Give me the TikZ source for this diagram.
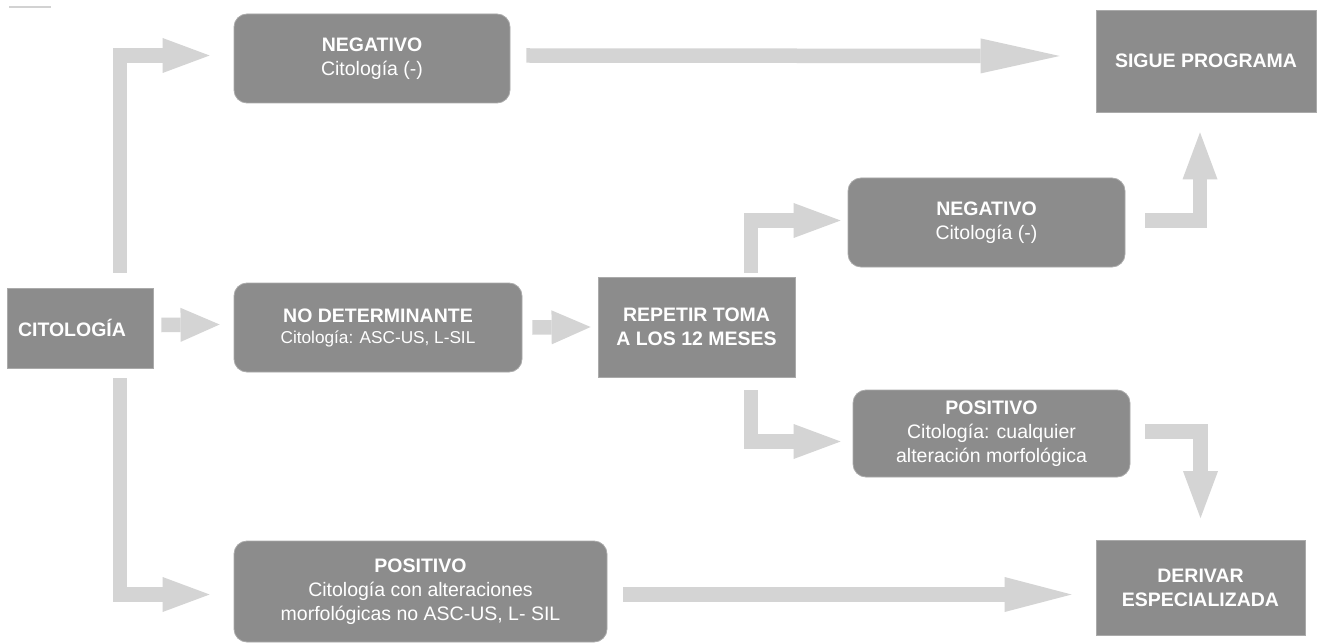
\documentclass[tikz,border=0pt]{standalone}
\usepackage{fontspec}
\setmainfont{Liberation Sans}
\usetikzlibrary{arrows.meta}
\definecolor{boxgray}{RGB}{140,140,140}
\definecolor{boxedge}{RGB}{170,170,170}
\definecolor{arrowgray}{RGB}{212,212,212}
\begin{document}
\begin{tikzpicture}[x=1pt,y=-1pt,
  txt/.style={text=white, align=center, font={\fontsize{19.5}{24}\selectfont}},
  sqbox/.style={txt, draw=boxedge, line width=0.8pt, fill=boxgray, inner sep=0pt},
  rbox/.style={sqbox, rounded corners=13pt},
  barrow/.style={draw=arrowgray, line width=14.5pt, line join=miter,
    -{Triangle[length=47pt, width=35pt, line width=0pt]}},
  shorthead/.style={-{Triangle[length=39pt, width=34pt, line width=0pt]}},
  longhead/.style={-{Triangle[length=79pt, width=35pt, line width=0pt]}},
  midhead/.style={-{Triangle[length=67pt, width=35pt, line width=0pt]}}]
\useasboundingbox (0,0) rectangle (1324,644);
\fill[white] (0,0) rectangle (1324,644);
% faint mark in the corner
\draw[gray!35, line width=1.5pt] (9,7) -- (51,7);

% boxes
\node[sqbox, minimum width=146pt, minimum height=80pt, text width=124pt, align=left]
  (cit) at (80,328) {\textbf{CITOLOGÍA}};
\node[rbox, minimum width=276pt, minimum height=89pt] (neg1) at (372,58.5)
  {\textbf{NEGATIVO}\\Citología (-)};
\node[sqbox, minimum width=220pt, minimum height=102pt] (sigue) at (1206,61)
  {\textbf{SIGUE PROGRAMA}};
\node[rbox, minimum width=288pt, minimum height=89pt] (nodet) at (378,327.5)
  {\textbf{NO DETERMINANTE}\\[-3pt]{\fontsize{17.2}{20}\selectfont Citología: ASC-US, L-SIL}};
\node[sqbox, minimum width=197pt, minimum height=100pt] (rep) at (696.5,327)
  {\textbf{REPETIR TOMA}\\\textbf{A LOS 12 MESES}};
\node[rbox, minimum width=277pt, minimum height=89pt] (neg2) at (986.5,222.5)
  {\textbf{NEGATIVO}\\Citología (-)};
\node[rbox, minimum width=277pt, minimum height=87pt] (pos2) at (991.5,433.5)
  {\textbf{POSITIVO}\\Citología: cualquier\\alteración morfológica};
\node[sqbox, minimum width=209pt, minimum height=95pt] (deriv) at (1200.5,588)
  {\textbf{DERIVAR}\\\textbf{ESPECIALIZADA}};
\node[rbox, minimum width=373pt, minimum height=101pt] (pos1) at (420.5,591.5)
  {\textbf{POSITIVO}\\Citología con alteraciones\\morfológicas no ASC-US, L- SIL};

% block arrows
\draw[barrow] ([xshift=40pt,yshift=15pt]cit.north) |- ([xshift=-24pt,yshift=3pt]neg1.west);
\draw[barrow] ([xshift=40pt,yshift=-10pt]cit.south) |- ([xshift=-24pt,yshift=-3pt]pos1.west);
\draw[barrow, shorthead] ([xshift=8pt,yshift=3pt]cit.east) -- ([xshift=-14pt,yshift=3pt]nodet.west);
\draw[barrow, shorthead] ([xshift=10pt]nodet.east) -- ([xshift=-7pt]rep.west);
\draw[barrow, longhead] ([xshift=16pt,yshift=3pt]neg1.east) -- ([xshift=-36pt,yshift=5pt]sigue.west);
\draw[barrow] ([xshift=54.5pt,yshift=4pt]rep.north) |- ([xshift=-7pt,yshift=2pt]neg2.west);
\draw[barrow] ([xshift=54.5pt,yshift=-13pt]rep.south) |- ([xshift=-12pt,yshift=-8pt]pos2.west);
\draw[barrow] ([xshift=20pt,yshift=2pt]neg2.east) -| ([xshift=-6pt,yshift=-20pt]sigue.south);
\draw[barrow] ([xshift=15pt,yshift=2pt]pos2.east) -| ([yshift=22pt]deriv.north);
\draw[barrow, midhead] ([xshift=16pt,yshift=-3pt]pos1.east) -- ([xshift=-24pt,yshift=-6.5pt]deriv.west);
\end{tikzpicture}
\end{document}
